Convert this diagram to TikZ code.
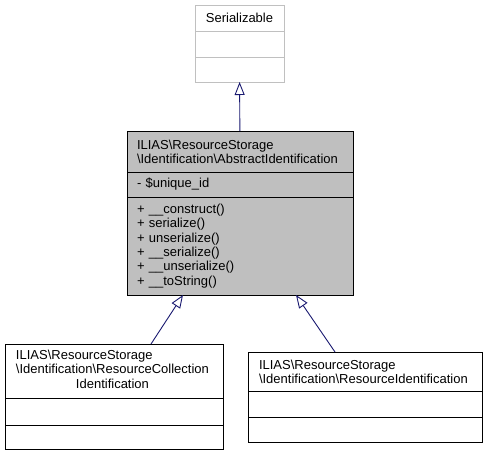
\documentclass[tikz,border=0pt]{standalone}
\usepackage{fontspec}
\setmainfont{Liberation Sans}
\usetikzlibrary{positioning,arrows.meta}
\definecolor{edgeblue}{HTML}{191970}
\definecolor{absgray}{HTML}{BFBFBF}
\definecolor{boxgray}{HTML}{C0C0C0}
\tikzstyle{compartment}=[rectangle,draw=black,line width=1pt,fill=white,outer sep=0pt,inner ysep=0pt,font=\fontsize{13}{14.3}\selectfont]
\tikzstyle{inherit}=[draw=edgeblue,line width=0.9pt,-{Triangle[open,length=13pt,width=10pt]}]

\begin{document}
\begin{tikzpicture}[x=1pt,y=1pt]
	\useasboundingbox (0,0) rectangle (488,-456);
	% Serializable
	\node [compartment,draw=boxgray,minimum width=89pt,minimum height=26pt,anchor=north west] (sertitle) at (195,-5) {Serializable};
	\node [compartment,draw=boxgray,minimum width=89pt,minimum height=26pt] (serattr) [below=0pt of sertitle] {};
	\node [compartment,draw=boxgray,minimum width=89pt,minimum height=25pt] (serops) [below=0pt of serattr] {};

	% AbstractIdentification
	\node [compartment,fill=absgray,minimum width=226pt,minimum height=41pt,inner xsep=10pt,text width=206pt,align=left,anchor=north west] (abstitle) at (127,-131)
		{ILIAS\textbackslash ResourceStorage\\\textbackslash Identification\textbackslash AbstractIdentification};
	\node [compartment,fill=absgray,minimum width=226pt,minimum height=25pt,inner xsep=10pt,text width=206pt,align=left] (absattr) [below=0pt of abstitle]
		{- \$unique\_id};
	\node [compartment,fill=absgray,minimum width=226pt,minimum height=98pt,inner xsep=10pt,text width=206pt,align=left] (absops) [below=0pt of absattr]
		{+ \_\_construct()\\+ serialize()\\+ unserialize()\\+ \_\_serialize()\\+ \_\_unserialize()\\+ \_\_toString()};

	% ResourceCollectionIdentification
	\node [compartment,minimum width=218pt,minimum height=54pt,inner xsep=11pt,text width=196pt,align=left,anchor=north west] (colltitle) at (5,-344)
		{\begin{tabular}{@{}l@{}}ILIAS\textbackslash ResourceStorage\\\textbackslash Identification\textbackslash ResourceCollection\\\multicolumn{1}{@{}c@{}}{Identification}\end{tabular}};
	\node [compartment,minimum width=218pt,minimum height=27pt] (collattr) [below=0pt of colltitle] {};
	\node [compartment,minimum width=218pt,minimum height=24pt] (collops) [below=0pt of collattr] {};

	% ResourceIdentification
	\node [compartment,minimum width=234pt,minimum height=39pt,inner xsep=11pt,text width=212pt,align=left,anchor=north west] (restitle) at (248,-352)
		{ILIAS\textbackslash ResourceStorage\\\textbackslash Identification\textbackslash ResourceIdentification};
	\node [compartment,minimum width=234pt,minimum height=26pt] (resattr) [below=0pt of restitle] {};
	\node [compartment,minimum width=234pt,minimum height=25pt] (resops) [below=0pt of resattr] {};

	\path (abstitle) edge [inherit] (serops)
		([xshift=37pt]colltitle.north) edge [inherit] ([xshift=-57pt]absops.south)
		([xshift=-30pt]restitle.north) edge [inherit] ([xshift=56pt]absops.south);
\end{tikzpicture}
\end{document}
